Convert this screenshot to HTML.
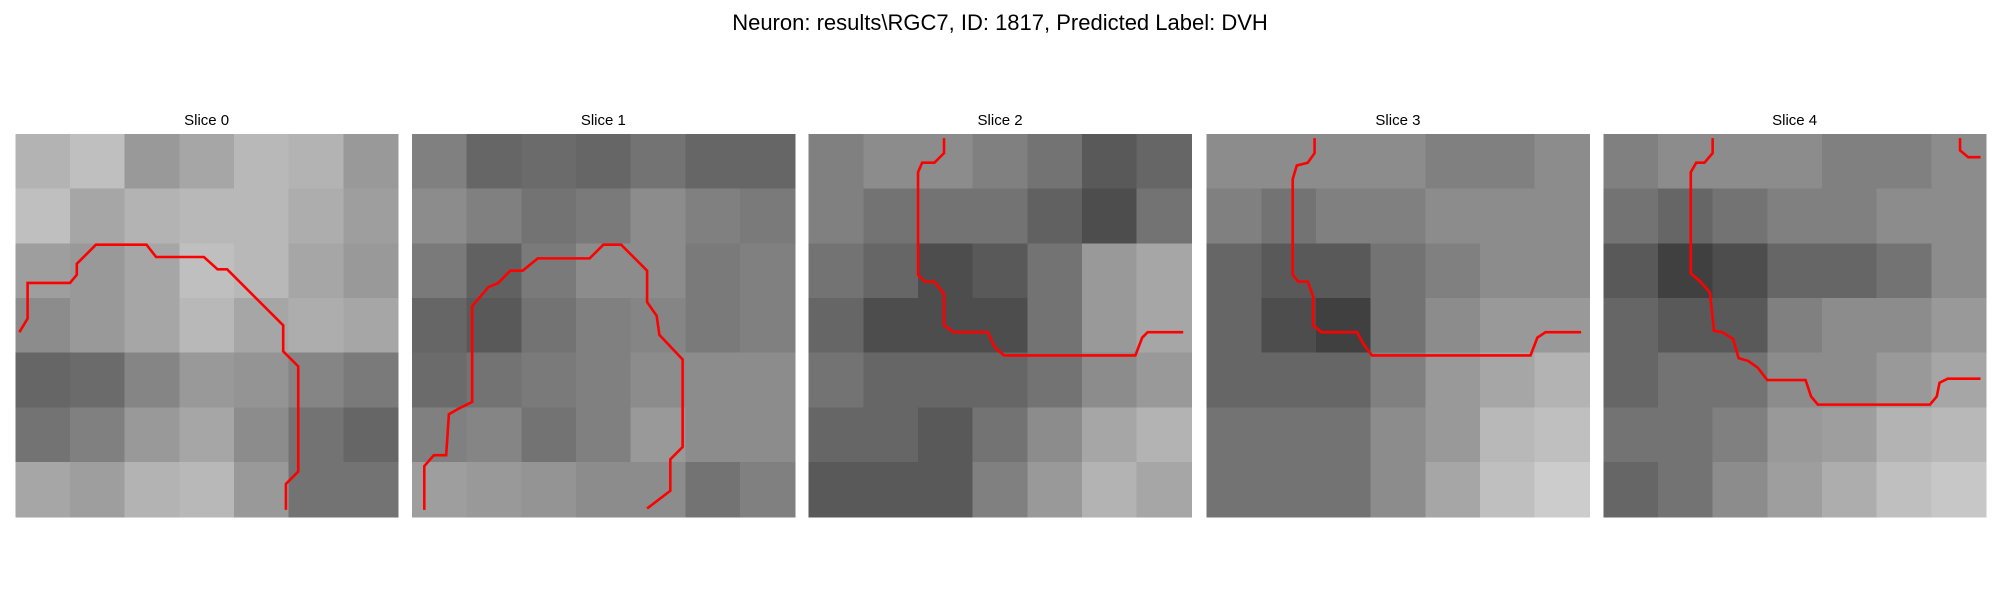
<!DOCTYPE html>
<html><head><meta charset="utf-8"><style>
html,body{margin:0;padding:0;background:#fff;}
svg{display:block;font-family:"Liberation Sans","DejaVu Sans",sans-serif;}
</style></head><body>
<svg id="fig" width="2000" height="600" viewBox="0 0 2000 600" xmlns="http://www.w3.org/2000/svg" shape-rendering="crispEdges">
<text x="1000" y="30" text-anchor="middle" font-size="22" fill="#000">Neuron: results\RGC7, ID: 1817, Predicted Label: DVH</text>
<g id="panels"></g>
</svg>
<script>
const sliceTitles = ["Slice 0","Slice 1","Slice 2","Slice 3","Slice 4"];
const gridCells = 28;
const intensity0 = [[.70,.75,.60,.65,.72,.70,.60],[.75,.65,.70,.72,.72,.68,.62],[.62,.60,.65,.75,.72,.65,.60],[.55,.60,.65,.72,.65,.68,.65],[.40,.42,.52,.60,.58,.52,.48],[.45,.50,.60,.65,.55,.45,.40],[.65,.62,.70,.72,.60,.45,.45]];
const intensity1 = [[.50,.40,.42,.40,.45,.40,.40],[.55,.50,.45,.48,.55,.50,.48],[.48,.38,.48,.55,.55,.48,.50],[.40,.35,.45,.50,.52,.48,.50],[.42,.45,.48,.50,.55,.55,.55],[.50,.52,.45,.50,.60,.55,.55],[.62,.60,.58,.55,.55,.45,.50]];
const intensity2 = [[.50,.55,.55,.50,.45,.35,.40],[.50,.45,.45,.45,.38,.30,.45],[.45,.40,.30,.35,.45,.60,.65],[.40,.30,.30,.30,.45,.60,.65],[.45,.40,.40,.40,.45,.55,.60],[.40,.40,.35,.45,.55,.65,.70],[.35,.35,.35,.50,.60,.70,.65]];
const intensity3 = [[.55,.55,.55,.55,.50,.50,.55],[.50,.45,.50,.50,.55,.55,.55],[.40,.35,.35,.45,.50,.55,.55],[.40,.30,.25,.45,.55,.60,.60],[.40,.40,.40,.50,.60,.65,.70],[.45,.45,.45,.55,.60,.72,.75],[.45,.45,.45,.55,.65,.75,.80]];
const intensity4 = [[.50,.55,.55,.55,.50,.50,.55],[.45,.40,.45,.50,.50,.55,.55],[.35,.25,.30,.40,.40,.45,.55],[.40,.35,.35,.50,.55,.55,.60],[.40,.45,.45,.55,.55,.60,.65],[.45,.45,.50,.60,.62,.70,.72],[.40,.45,.55,.62,.68,.75,.78]];
const trace0 = [[0.3,14.5],[0.9,13.5],[0.9,10.9],[4,10.9],[4.5,10.3],[4.5,9.5],[5.9,8.1],[9.6,8.1],[10.3,9],[13.8,9],[14.8,9.9],[15.5,9.9],[19.6,14],[19.6,15.9],[20.7,17],[20.7,24.7],[19.8,25.6],[19.8,27.5]];
const trace1 = [[0.9,27.5],[0.9,24.3],[1.6,23.5],[2.5,23.5],[2.7,20.5],[3.4,20.1],[4.4,19.6],[4.4,12.6],[5.6,11.2],[6.3,10.9],[7.2,10],[8.1,10],[9.2,9.1],[13,9.1],[14,8.1],[15.3,8.1],[17.2,10],[17.2,12.3],[17.9,13.3],[18.1,14.7],[19.8,16.5],[19.8,22.9],[18.9,23.8],[18.9,26.1],[17.2,27.4]];
const trace2 = [[9.9,0.3],[9.9,1.4],[9.2,2.1],[8.3,2.1],[8,2.8],[8,10.3],[8.5,10.8],[9.2,10.8],[9.9,11.7],[9.9,14],[10.6,14.5],[13.1,14.5],[13.6,15.6],[14.3,16.2],[23.9,16.2],[24.4,14.9],[24.8,14.5],[27.4,14.5]];
const trace3 = [[7.9,0.3],[7.9,1.4],[7.4,2.1],[6.6,2.3],[6.3,3.3],[6.3,10.3],[6.7,10.8],[7.4,10.8],[7.8,11.9],[7.8,14],[8.4,14.5],[11,14.5],[11.5,15.4],[12.1,16.2],[23.7,16.2],[24.2,14.9],[24.8,14.5],[27.4,14.5]];
const trace4 = [[8,0.3],[8,1.4],[7.4,2.1],[6.8,2.1],[6.4,2.8],[6.4,10.2],[7.1,10.8],[7.8,11.6],[8.1,14.4],[8.7,14.5],[9.5,15],[9.9,16.4],[10.6,16.6],[11.3,17.1],[12,18],[14.8,18],[15.2,19.2],[15.7,19.8],[23.9,19.8],[24.4,19.2],[24.6,18.2],[25.2,17.9],[27.6,17.9]];
const trace4b = [[26.1,0.3],[26.1,1.2],[26.7,1.7],[27.6,1.7]];

const intensities=[intensity0,intensity1,intensity2,intensity3,intensity4];
const traces=[[trace0],[trace1],[trace2],[trace3],[trace4,trace4b]];
const NS="http://www.w3.org/2000/svg";
const panelLeft=[15.3,412,808.7,1206.6,1603.3], panelTop=134, panelSize=382.7;
const g=document.getElementById('panels');
function mk(t){return document.createElementNS(NS,t);}
intensities.forEach((grid,p)=>{
  const x0=panelLeft[p];
  const grp=mk('g');
  
  
  g.appendChild(grp);
  const n=grid.length, bs=panelSize/n;
  const sx=v=>x0+v*panelSize/gridCells, sy=v=>panelTop+v*panelSize/gridCells;
  grid.forEach((row,r)=>row.forEach((v,c)=>{
    const rc=mk('rect');
    
    
    rc.setAttribute('x',x0+c*bs);rc.setAttribute('y',panelTop+r*bs);
    rc.setAttribute('width',bs+0.6);rc.setAttribute('height',bs+0.6);
    const k=Math.round(v*255);rc.setAttribute('fill',`rgb(${k},${k},${k})`);
    grp.appendChild(rc);
  }));
  const t=mk('text');
  
  
  t.setAttribute('x',x0+panelSize/2);t.setAttribute('y',125);
  t.setAttribute('text-anchor','middle');t.setAttribute('font-size','15');
  t.textContent=sliceTitles[p];grp.appendChild(t);
  traces[p].forEach(tr=>{
    const pl=mk('polyline');
    
    
    pl.setAttribute('points',tr.map(q=>sx(q[0])+','+sy(q[1])).join(' '));
    pl.setAttribute('fill','none');pl.setAttribute('stroke','#ff0000');
    pl.setAttribute('stroke-width','2.6');pl.setAttribute('shape-rendering','auto');
    grp.appendChild(pl);
  });
});
</script>
</body></html>
